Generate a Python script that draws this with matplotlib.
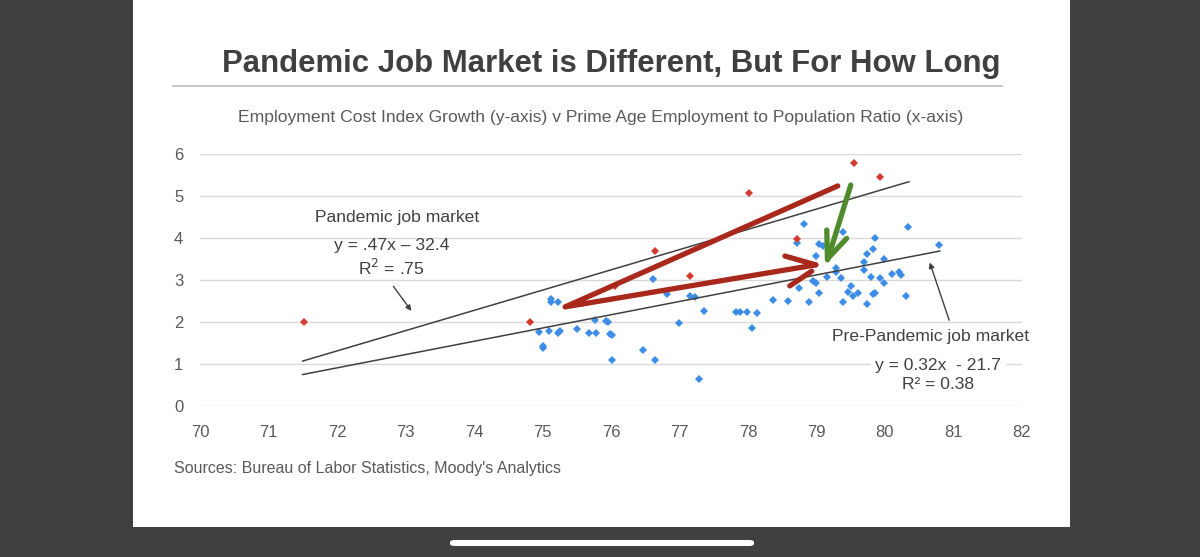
import matplotlib
matplotlib.use("Agg")
import matplotlib.pyplot as plt
from matplotlib.patches import Rectangle, FancyBboxPatch

plt.rcParams['font.family'] = ['Liberation Sans', 'DejaVu Sans']

# ---------------- data ----------------
blue_x = [75.12, 75.12, 75.22, 74.95, 75.09, 75.22, 75.26, 75.01, 75.01, 75.51,
          75.68, 75.78, 75.76, 75.93, 75.96, 75.99, 76.02, 76.02, 76.46, 76.64,
          76.62, 76.82, 76.99, 77.15, 77.23, 77.28, 77.36, 77.82, 77.88, 77.98,
          78.13, 78.06, 78.36, 78.59, 78.72, 78.82, 78.75, 78.89, 78.95, 78.99,
          78.99, 79.03, 79.09, 79.03, 79.16, 79.28, 79.29, 79.36, 79.39, 79.39,
          79.46, 79.50, 79.53, 79.60, 79.69, 79.69, 79.73, 79.73, 79.79, 79.82,
          79.85, 79.82, 79.85, 79.93, 79.99, 79.99, 80.10, 80.20, 80.23, 80.30,
          80.33, 80.79, 75.59]
blue_y = [2.55, 2.47, 2.48, 1.77, 1.79, 1.75, 1.79, 1.43, 1.39, 1.83,
          1.73, 1.73, 2.05, 2.03, 2.01, 1.71, 1.69, 1.10, 1.33, 1.10,
          3.02, 2.66, 1.97, 2.63, 2.60, 0.64, 2.26, 2.23, 2.23, 2.23,
          2.21, 1.85, 2.52, 2.51, 3.87, 4.33, 2.80, 2.47, 2.98, 2.94,
          3.56, 3.85, 3.82, 2.70, 3.08, 3.28, 3.20, 3.04, 4.15, 2.47,
          2.71, 2.86, 2.63, 2.68, 3.42, 3.24, 3.62, 2.42, 3.08, 3.74,
          3.99, 2.67, 2.68, 3.04, 3.49, 2.94, 3.14, 3.20, 3.13, 2.63,
          4.27, 3.83, 2.45]
red_x = [71.52, 74.82, 76.06, 76.64, 77.15, 78.02, 78.72, 79.55, 79.93]
red_y = [1.99, 1.99, 2.86, 3.70, 3.10, 5.08, 3.97, 5.79, 5.45]

pandemic_fit_x = [71.5, 80.35]
pandemic_fit_y = [1.07, 5.34]
prepandemic_fit_x = [71.5, 80.8]
prepandemic_fit_y = [0.75, 3.69]

x_ticks = [70, 71, 72, 73, 74, 75, 76, 77, 78, 79, 80, 81, 82]
y_ticks = [0, 1, 2, 3, 4, 5, 6]

# hand-drawn annotation strokes (data coords)
red_stroke_x = [79.31, 75.33, 78.99]
red_stroke_y = [5.24, 2.36, 3.36]
red_head1_x = [78.54, 78.99]
red_head1_y = [3.57, 3.36]
red_head2_x = [78.61, 78.93]
red_head2_y = [2.86, 3.21]
green_stroke_x = [79.50, 79.17]
green_stroke_y = [5.26, 3.52]
green_head1_x = [79.15, 79.16]
green_head1_y = [4.19, 3.48]
green_head2_x = [79.44, 79.17]
green_head2_y = [3.99, 3.52]

W, H = 1200, 557
fig = plt.figure(figsize=(12, 5.57), dpi=100)
fig.patch.set_facecolor('#404040')

def fx(px):
    return px / W

def fy(py):
    return 1 - py / H

# white slide
fig.patches.append(Rectangle((fx(133), fy(527)), fx(1070) - fx(133), fy(0) - fy(527),
                             transform=fig.transFigure, facecolor='white',
                             edgecolor='none', zorder=-5))
# home indicator
fig.patches.append(FancyBboxPatch((fx(450), fy(546)), fx(754) - fx(450), fy(540) - fy(546),
                                  boxstyle='round,pad=0,rounding_size=0.004',
                                  transform=fig.transFigure, facecolor='white',
                                  edgecolor='none', zorder=-5))

# title + underline
fig.text(fx(611), fy(64), 'Pandemic Job Market is Different, But For How Long',
         ha='center', va='center', fontsize=22.4, fontweight='bold', color='#404040')
fig.add_artist(plt.Line2D([fx(173), fx(1002)], [fy(86), fy(86)], transform=fig.transFigure,
                          color='#c8c8c8', lw=1.5))
fig.text(fx(601), fy(118),
         'Employment Cost Index Growth (y-axis) v Prime Age Employment to Population Ratio (x-axis)',
         ha='center', va='center', fontsize=12.6, color='#595959')
fig.text(fx(174), fy(468), "Sources: Bureau of Labor Statistics, Moody's Analytics",
         ha='left', va='center', fontsize=11.5, color='#595959')

ax = fig.add_axes([fx(200), fy(406), fx(1022) - fx(200), fy(154) - fy(406)])
ax.set_facecolor('none')
ax.set_xlim(70, 82)
ax.set_ylim(0, 6)
ax.set_xticks(x_ticks)
ax.set_yticks(y_ticks)
for s in ax.spines.values():
    s.set_visible(False)
ax.tick_params(length=0, labelsize=12, labelcolor='#595959')
ax.tick_params(axis='x', pad=14)
ax.tick_params(axis='y', pad=12)
ax.grid(axis='y', color='#d9d9d9', lw=1)
ax.set_axisbelow(True)

ax.plot(blue_x, blue_y, 'D', color='#3d8de6', ms=4, mew=0, zorder=3)
ax.plot(red_x, red_y, 'D', color='#d23b30', ms=3.6, mew=0, zorder=3)

ax.plot(pandemic_fit_x, pandemic_fit_y, color='#404040', lw=1.1, zorder=4)
ax.plot(prepandemic_fit_x, prepandemic_fit_y, color='#404040', lw=1.1, zorder=4)

# annotations
fs = 12.6
ax.text(72.88, 4.48, 'Pandemic job market', ha='center', va='center', fontsize=fs,
        color='#404040', zorder=5)
ax.text(72.80, 3.83, 'y = .47x \u2013 32.4', ha='center', va='center', fontsize=fs,
        color='#404040', zorder=5)
ax.text(72.80, 3.29, 'R$^2$ = .75', ha='center', va='center', fontsize=fs,
        color='#404040', zorder=5)
ax.annotate('', xy=(73.11, 2.21), xytext=(72.80, 2.90),
            arrowprops=dict(arrowstyle='-|>', color='#404040', lw=1, mutation_scale=8))

ax.text(80.67, 1.65, 'Pre-Pandemic job market', ha='center', va='center', fontsize=fs,
        color='#404040', zorder=5, clip_on=False,
        bbox=dict(facecolor='white', edgecolor='none', pad=1))
ax.text(80.78, 0.96, 'y = 0.32x  - 21.7', ha='center', va='center', fontsize=fs,
        color='#404040', zorder=5, clip_on=False,
        bbox=dict(facecolor='white', edgecolor='none', pad=3))
ax.text(80.78, 0.52, 'R\u00b2 = 0.38', ha='center', va='center', fontsize=fs,
        color='#404040', zorder=5, clip_on=False,
        bbox=dict(facecolor='white', edgecolor='none', pad=1))
ax.annotate('', xy=(80.64, 3.48), xytext=(80.95, 1.98),
            arrowprops=dict(arrowstyle='-|>', color='#404040', lw=1, mutation_scale=8))

red_c = '#a8291b'
green_c = '#4f8a2c'
kw = dict(lw=3.8, solid_capstyle='round', solid_joinstyle='round', zorder=6)
ax.plot(red_stroke_x, red_stroke_y, color=red_c, **kw)
ax.plot(red_head1_x, red_head1_y, color=red_c, **kw)
ax.plot(red_head2_x, red_head2_y, color=red_c, **kw)
ax.plot(green_stroke_x, green_stroke_y, color=green_c, **kw)
ax.plot(green_head1_x, green_head1_y, color=green_c, **kw)
ax.plot(green_head2_x, green_head2_y, color=green_c, **kw)

fig.savefig('out.png', dpi=100, facecolor=fig.get_facecolor())
